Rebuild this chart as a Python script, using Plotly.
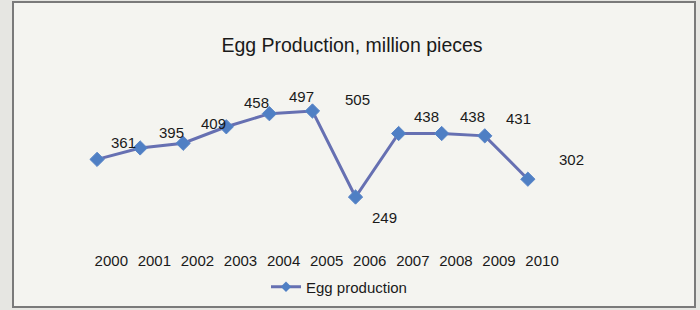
import plotly.graph_objects as go

# ---- data ----
years = [2000, 2001, 2002, 2003, 2004, 2005, 2006, 2007, 2008, 2009, 2010]
production = [361, 395, 409, 458, 497, 505, 249, 438, 438, 431, 302]
series_name = "Egg production"
title_text = "Egg Production, million pieces"

# ---- style / layout constants ----
W, H = 700, 310
L, R_EDGE = 54, 614           # plot area pixel extents (x)
T, B_EDGE = 70, 250           # plot area pixel extents (y)
X_RANGE = [1999, 2012]
Y_RANGE = [91.3, 627]
TICK_OFFSET = 0.33            # category labels sit right of the markers
LABEL_SHIFT = [(26, 17), (31, 15), (30, 20), (30, 24), (32, 17), (45, 11),
               (29, -20), (28, 17), (31, 17), (34, 17), (44, 20)]
FONT = "Liberation Sans, Arial, sans-serif"
TXT = "#1a1a1a"
LINE_C = "#6670b2"
MARK_C = "#4f7fc4"

fig = go.Figure()
fig.add_trace(go.Scatter(
    x=years, y=production, mode="lines+markers", name=series_name,
    showlegend=False,
    line=dict(color=LINE_C, width=3),
    marker=dict(symbol="diamond", size=11, color=MARK_C,
                line=dict(width=1, color="#5a86c8")),
))
# legend entry (smaller symbol, like the original)
fig.add_trace(go.Scatter(
    x=[None], y=[None], mode="lines+markers", name=series_name,
    line=dict(color=LINE_C, width=3),
    marker=dict(symbol="diamond", size=8, color=MARK_C),
))

for yr, v, (dx, dy) in zip(years, production, LABEL_SHIFT):
    fig.add_annotation(x=yr, y=v, text=str(v), showarrow=False,
                       xshift=dx, yshift=dy,
                       font=dict(family=FONT, size=15, color=TXT))

def px2paper_x(p):
    return (p - L) / (R_EDGE - L)

def px2paper_y(p):
    return (B_EDGE - p) / (B_EDGE - T)

# chart box
fig.add_shape(type="rect", xref="paper", yref="paper",
              x0=px2paper_x(13), x1=px2paper_x(695),
              y0=px2paper_y(307), y1=px2paper_y(2),
              fillcolor="#f4f4f0", line=dict(color="#7a7a7a", width=2),
              layer="below")

fig.update_layout(
    width=W, height=H,
    margin=dict(l=L, r=W - R_EDGE, t=T, b=H - B_EDGE, autoexpand=False),
    paper_bgcolor="#e6e6e2", plot_bgcolor="rgba(0,0,0,0)",
    font=dict(family=FONT, color=TXT, size=15),
    title=dict(text=title_text, x=352 / W, xanchor="center",
               y=1 - 45 / H, yanchor="middle", xref="container", yref="container",
               font=dict(family=FONT, size=19.5, color=TXT)),
    xaxis=dict(range=X_RANGE, tickvals=[y + TICK_OFFSET for y in years],
               ticktext=[str(y) for y in years], showgrid=False,
               zeroline=False, showline=False, ticks="", automargin=False,
               tickfont=dict(family=FONT, size=15, color=TXT)),
    yaxis=dict(range=Y_RANGE, visible=False, automargin=False),
    showlegend=True,
    legend=dict(orientation="h", xref="container", yref="container",
                x=339 / W, xanchor="center", y=1 - 287 / H, yanchor="middle",
                bgcolor="rgba(0,0,0,0)",
                font=dict(family=FONT, size=15, color=TXT)),
)

fig.write_html("out.html",
               config={"displayModeBar": False},
               post_script="document.body.style.margin='0px';document.body.style.background='#e6e6e2';")
